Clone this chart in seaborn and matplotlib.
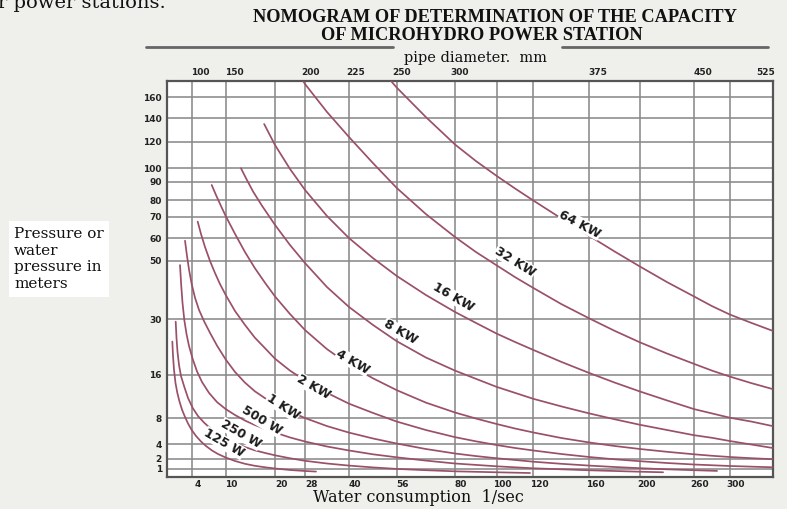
import numpy as np
import pandas as pd
import matplotlib
matplotlib.use("Agg")
import matplotlib.pyplot as plt
import matplotlib.transforms as mtransforms
import seaborn as sns

# ---------------- data ----------------
q_125w = [0.9, 1.01, 1.17, 1.41, 1.7, 2.02, 2.45, 2.93, 3.41, 4, 4.76, 5.64, 6.52, 7.58, 8.64, 10, 11.9, 13.9, 15.9, 18, 20, 24, 28, 31]
h_125w = [24.4, 20.8, 17.3, 14.5, 12.7, 11.2, 9.6, 8.24, 7.2, 6.2, 5.28, 4.43, 3.77, 3.16, 2.68, 2.2, 1.8, 1.52, 1.32, 1.17, 1.05, 0.875, 0.75, 0.68]

q_250w = [1.44, 1.57, 1.73, 1.97, 2.29, 2.82, 3.41, 4.18, 5.11, 6.17, 7.41, 8.64, 10, 11.9, 13.9, 15.9, 18, 20, 24, 28, 34, 40, 48, 56, 68, 80, 100, 118.2]
h_250w = [29.4, 25.3, 21.8, 18.5, 15.8, 13.8, 11.75, 9.9, 8.42, 7.35, 6.35, 5.58, 4.89, 4.2, 3.63, 3.18, 2.82, 2.5, 2.1, 1.82, 1.55, 1.34, 1.16, 1.01, 0.85, 0.71, 0.59, 0.5]

q_500w = [2.13, 2.32, 2.53, 2.82, 3.17, 3.57, 4.18, 4.94, 5.82, 7.05, 8.46, 10, 11.9, 13.9, 15.9, 18, 20, 24, 28, 34, 40, 48, 56, 68, 80, 100, 120, 160, 200, 225.6]
h_500w = [48.5, 41.7, 35.6, 29.8, 26.3, 23.3, 20.0, 16.9, 14.7, 12.7, 11.0, 9.7, 8.6, 7.66, 6.97, 6.35, 5.82, 5.05, 4.43, 3.7, 3.16, 2.64, 2.23, 1.84, 1.55, 1.27, 1.07, 0.84, 0.66, 0.59]

q_1kw = [2.93, 3.25, 3.57, 4, 4.58, 5.29, 6.22, 7.23, 8.46, 10, 11.9, 13.9, 15.9, 18, 20, 24, 28, 34, 40, 48, 56, 68, 80, 90, 100, 120, 140, 160, 180, 200, 230, 260, 285.6]
h_1kw = [58.9, 52.1, 47.0, 42.0, 37.4, 33.2, 29.4, 26.6, 23.4, 19.9, 16.75, 14.6, 13.0, 11.7, 10.6, 9.25, 8.05, 6.8, 5.8, 4.9, 4.12, 3.36, 2.75, 2.4, 2.1, 1.73, 1.52, 1.34, 1.2, 1.08, 0.96, 0.85, 0.76]

q_2kw = [5.06, 5.64, 6.35, 7.23, 8.11, 9.0, 10, 11.9, 13.9, 15.9, 18, 20, 24, 28, 34, 40, 48, 56, 68, 80, 90, 100, 110, 120, 140, 160, 180, 200, 230, 260, 300, 347]
h_2kw = [67.7, 62.0, 56.1, 49.9, 45.8, 42.0, 38.3, 32.8, 28.6, 25.4, 22.7, 20.1, 17.1, 15.0, 12.7, 10.7, 9.0, 7.5, 6.2, 5.1, 4.46, 3.9, 3.5, 3.16, 2.68, 2.27, 1.97, 1.78, 1.6, 1.45, 1.3, 1.17]

q_4kw = [7.53, 8.29, 9.17, 10, 11.9, 13.9, 15.9, 18, 20, 24, 28, 34, 40, 48, 56, 68, 80, 90, 100, 110, 120, 140, 160, 180, 200, 230, 260, 280, 300, 323.5, 347]
h_4kw = [88.2, 82.7, 76.4, 70.4, 62.0, 53.9, 47.5, 42.4, 37.8, 31.8, 27.3, 22.5, 18.6, 15.4, 13.2, 10.9, 9.07, 7.97, 7.12, 6.43, 5.82, 4.97, 4.28, 3.77, 3.36, 2.98, 2.64, 2.44, 2.27, 2.11, 1.98]

q_8kw = [13.1, 14.3, 15.6, 17.4, 20, 24, 28, 34, 40, 48, 56, 68, 80, 90, 100, 110, 120, 140, 160, 180, 200, 230, 260, 280, 300, 323.5, 347]
h_8kw = [100, 91.3, 84.4, 76.4, 66.2, 57.0, 49.2, 41.0, 34.2, 28.6, 24.5, 20.4, 17.1, 15.3, 13.8, 12.7, 11.6, 10.2, 8.9, 7.85, 7.0, 6.2, 5.4, 5.0, 4.5, 3.97, 3.5]

q_16kw = [17.8, 20, 24, 28, 34, 40, 48, 56, 68, 80, 90, 100, 110, 120, 140, 160, 180, 200, 230, 260, 280, 300, 323.5, 347]
h_16kw = [135.1, 117.5, 99.5, 85.5, 70.4, 60.1, 51.2, 44.8, 38.3, 32.5, 29.1, 26.4, 24.3, 22.3, 19.3, 16.5, 14.6, 12.95, 11.3, 9.7, 8.9, 8.1, 7.5, 6.8]

q_32kw = [27.5, 28, 34, 40, 48, 56, 68, 80, 90, 100, 110, 120, 140, 160, 180, 200, 230, 260, 280, 300, 323.5, 347]
h_32kw = [175.7, 172.8, 146.0, 124.0, 104.0, 86.6, 71.6, 60.6, 53.9, 48.4, 44.4, 40.7, 35.2, 30.3, 27.1, 24.2, 21.4, 18.8, 17.1, 15.7, 14.5, 13.4]

q_64kw = [54.1, 56, 68, 80, 90, 100, 110, 120, 140, 160, 180, 200, 230, 260, 280, 300, 323.5, 347]
h_64kw = [175.7, 169.4, 141.2, 117.9, 105.5, 94.3, 86.3, 79.7, 69.2, 61.1, 54.1, 48.0, 42.7, 37.8, 34.5, 31.6, 29.1, 27.1]

curve_names = ["125 W", "250 W", "500 W", "1 KW", "2 KW", "4 KW", "8 KW", "16 KW", "32 KW", "64 KW"]
curve_q = [q_125w, q_250w, q_500w, q_1kw, q_2kw, q_4kw, q_8kw, q_16kw, q_32kw, q_64kw]
curve_h = [h_125w, h_250w, h_500w, h_1kw, h_2kw, h_4kw, h_8kw, h_16kw, h_32kw, h_64kw]

label_q = [9.7, 13.1, 17.4, 22.1, 30.2, 41.3, 57.4, 79.2, 110, 153.4]
label_h = [4.2, 5.6, 7.6, 10.1, 13.8, 19.3, 26.8, 37.6, 49.6, 66.6]
label_rot = [-30, -30, -31, -33, -30, -30, -30, -30, -32, -28]

x_ticks = [4, 10, 20, 28, 40, 56, 80, 100, 120, 160, 200, 260, 300]
y_ticks = [1, 2, 4, 8, 16, 30, 50, 60, 70, 80, 90, 100, 120, 140, 160]
pipe_labels = ["100", "150", "200", "225", "250", "300", "375", "450", "525"]
pipe_q = [5.5, 11.7, 29.6, 42.3, 58.2, 82.4, 166.9, 270, 338.9]

# nomogram (non-uniform) axis scales: value -> relative position
x_anchor_val = [0, 4, 10, 20, 28, 40, 56, 80, 100, 120, 160, 200, 260, 300, 347]
x_anchor_pos = [166.7, 191.7, 225.7, 275, 305, 349, 396.7, 455, 496.7, 533.3, 589.3, 640, 694, 730, 772.7]
y_anchor_val = [0, 1, 2, 4, 8, 16, 30, 50, 60, 70, 80, 90, 100, 120, 140, 160, 176]
y_anchor_pix = [477, 469, 459, 444.3, 418.3, 375, 319.3, 260.7, 238.3, 216.7, 200, 181.7, 168.3, 141.7, 118.3, 97.3, 80.7]


def piecewise(a, b):
    a = np.asarray(a, float)
    b = np.asarray(b, float)
    lo = (b[1] - b[0]) / (a[1] - a[0])
    hi = (b[-1] - b[-2]) / (a[-1] - a[-2])

    def f(v):
        v = np.asarray(v, float)
        out = np.interp(v, a, b)
        out = np.where(v < a[0], b[0] + (v - a[0]) * lo, out)
        out = np.where(v > a[-1], b[-1] + (v - a[-1]) * hi, out)
        return out
    return f


y_anchor_pos = [509 - p for p in y_anchor_pix]
x_fwd = piecewise(x_anchor_val, x_anchor_pos)
x_inv = piecewise(x_anchor_pos, x_anchor_val)
y_fwd = piecewise(y_anchor_val, y_anchor_pos)
y_inv = piecewise(y_anchor_pos, y_anchor_val)

# ---------------- figure ----------------
sns.set_style("white")
plt.rcParams["font.family"] = ["DejaVu Sans"]

W, H = 787, 509
fig = plt.figure(figsize=(W / 100, H / 100), dpi=100, facecolor="#efefec")
L, R, T, B = 166.7, 772.7, 80.7, 477
ax = fig.add_axes([L / W, (H - B) / H, (R - L) / W, (B - T) / H])
ax.set_facecolor("white")

rows = []
for name, qs, hs in zip(curve_names, curve_q, curve_h):
    for q, h in zip(qs, hs):
        rows.append({"curve": name, "Q": q, "H": h})
df = pd.DataFrame(rows)

line_color = "#9a5068"
sns.lineplot(data=df, x="Q", y="H", hue="curve", estimator=None, sort=False,
             palette={n: line_color for n in curve_names}, legend=False,
             linewidth=1.25, ax=ax, zorder=3)

ax.set_xscale("function", functions=(x_fwd, x_inv))
ax.set_yscale("function", functions=(y_fwd, y_inv))
ax.set_xlim(0, 347)
ax.set_ylim(0, 176)

ax.set_xticks(x_ticks)
ax.set_xticklabels([str(v) for v in x_ticks])
ax.set_yticks(y_ticks)
ax.set_yticklabels([str(v) for v in y_ticks])
ax.minorticks_off()
ax.grid(True, color="#8a8a8a", linewidth=1.15, zorder=1)
ax.set_axisbelow(True)
ax.tick_params(axis="both", length=0, labelsize=6.5, colors="#222222")
ax.tick_params(axis="x", pad=2.2)
ax.tick_params(axis="y", pad=3.5)
for lbl in ax.get_xticklabels() + ax.get_yticklabels():
    lbl.set_fontweight("bold")
offset = mtransforms.ScaledTranslation(6 / 100, 0, fig.dpi_scale_trans)
for lbl in ax.get_xticklabels():
    lbl.set_transform(lbl.get_transform() + offset)
ax.set_xlabel("")
ax.set_ylabel("")
for s in ax.spines.values():
    s.set_color("#555555")
    s.set_linewidth(1.6)

# top pipe-diameter axis (same nomogram scale)
ax2 = ax.twiny()
ax2.set_xscale("function", functions=(x_fwd, x_inv))
ax2.set_xlim(0, 347)
ax2.set_xticks(pipe_q)
ax2.set_xticklabels(pipe_labels)
ax2.minorticks_off()
ax2.tick_params(axis="x", length=0, labelsize=6.5, colors="#222222", pad=2.4)
for lbl in ax2.get_xticklabels():
    lbl.set_fontweight("bold")
for s in ax2.spines.values():
    s.set_visible(False)
ax2.grid(False)

# curve labels
for name, q, h, rot in zip(curve_names, label_q, label_h, label_rot):
    ax.text(q, h, name, rotation=rot, rotation_mode="anchor", ha="center", va="center",
            fontsize=9, fontweight="bold", color="#1a1a1a", zorder=5,
            bbox=dict(facecolor="white", edgecolor="none", pad=0.3))

# texts
fig.text(-2 / W, (H - 8) / H, "r power stations.", fontsize=14, family="DejaVu Serif",
         ha="left", va="baseline", color="#111111")
fig.text(495 / W, (H - 18) / H, "NOMOGRAM OF DETERMINATION OF THE CAPACITY",
         fontsize=13.2, fontweight="bold", family="Liberation Serif", ha="center", va="center",
         color="#111111")
fig.text(482 / W, (H - 35) / H, "OF MICROHYDRO POWER STATION",
         fontsize=13.2, fontweight="bold", family="Liberation Serif", ha="center", va="center",
         color="#111111")
fig.add_artist(plt.Line2D([146 / W, 393 / W], [(H - 47) / H] * 2, color="#666666", lw=2))
fig.add_artist(plt.Line2D([562 / W, 768 / W], [(H - 47) / H] * 2, color="#666666", lw=2))
fig.text(475 / W, (H - 58) / H, "pipe diameter.  mm", fontsize=10.5, family="DejaVu Serif",
         ha="center", va="center", color="#111111")
fig.text(418 / W, (H - 497) / H, "Water consumption  1/sec", fontsize=11.5,
         family="DejaVu Serif", ha="center", va="center", color="#111111")
fig.text(14 / W, (H - 259) / H, "Pressure or\nwater\npressure in\nmeters", fontsize=11,
         family="DejaVu Serif", ha="left", va="center", linespacing=1.25, color="#111111",
         bbox=dict(facecolor="white", edgecolor="none", pad=4))

fig.savefig("out.png", dpi=100, facecolor=fig.get_facecolor())
